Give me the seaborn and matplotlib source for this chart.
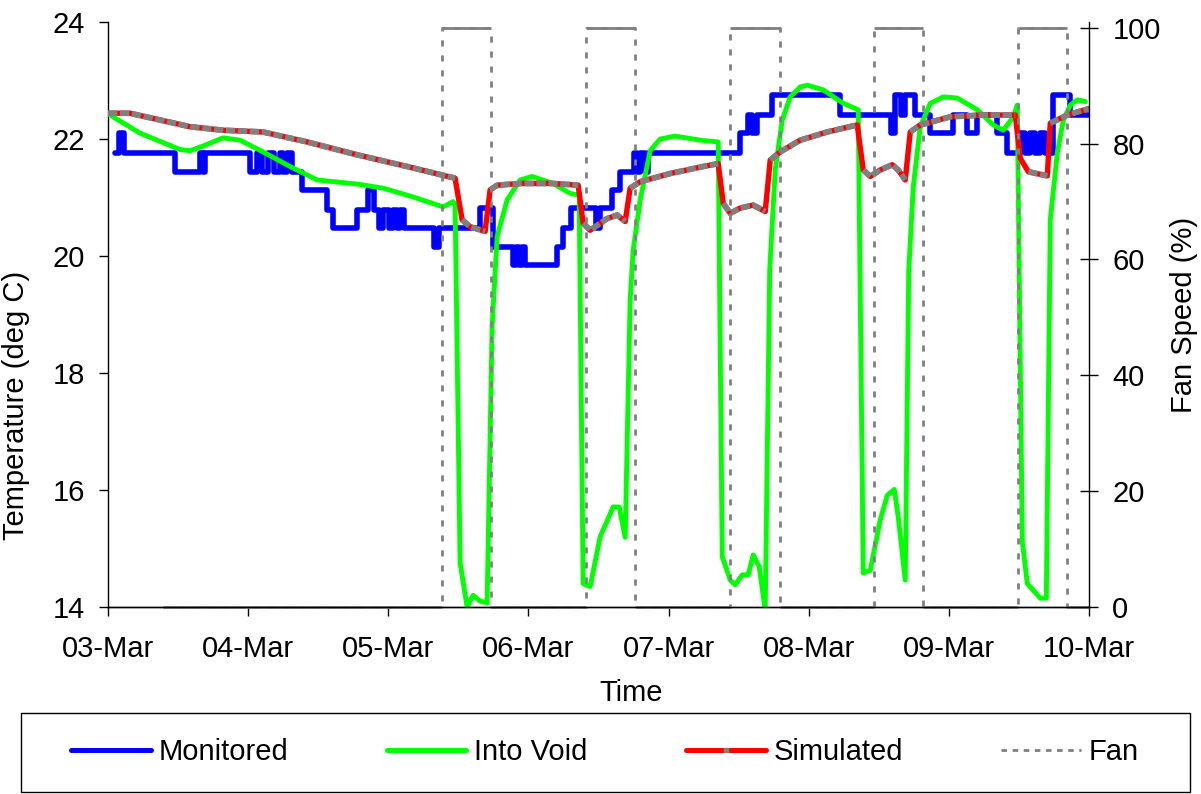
import numpy as np
import pandas as pd
import matplotlib
matplotlib.use("Agg")
import matplotlib.pyplot as plt
from matplotlib.lines import Line2D
from matplotlib.patches import Rectangle
import seaborn as sns

# ---------------- data (hours since 03-Mar 00:00) ----------------
day_labels = ["03-Mar", "04-Mar", "05-Mar", "06-Mar", "07-Mar", "08-Mar", "09-Mar", "10-Mar"]

mon_hours = [1.2, 1.88, 2.74, 11.48, 15.76, 16.27, 16.62, 24.33, 25.52, 26.38,
             27.41, 28.44, 29.47, 29.98, 30.66, 31.52, 33.23, 37.52, 38.54, 42.66,
             44.54, 45.57, 46.43, 47.11, 48.14, 48.82, 49.51, 50.02, 50.71, 55.85,
             56.70, 63.73, 65.95, 69.38, 69.89, 70.41, 70.92, 71.44, 76.92, 77.95,
             79.32, 83.60, 84.28, 86.34, 87.71, 90.11, 90.62, 91.14, 91.99, 92.51,
             108.27, 109.64, 110.32, 111.18, 113.75, 125.40, 134.14, 134.82, 135.85, 136.53,
             138.25, 140.82, 144.76, 147.16, 148.87, 152.30, 154.01, 156.23, 157.09, 157.95,
             158.80, 159.66, 160.52, 161.89, 164.80, 168.0]
mon_temp = [21.76, 22.10, 21.76, 21.44, 21.76, 21.44, 21.76, 21.44, 21.76, 21.44,
            21.76, 21.44, 21.76, 21.44, 21.76, 21.44, 21.13, 20.79, 20.48, 20.79,
            21.13, 20.79, 20.48, 20.79, 20.48, 20.79, 20.48, 20.79, 20.48, 20.16,
            20.48, 20.82, 20.16, 19.85, 20.16, 19.85, 20.16, 19.85, 20.16, 20.48,
            20.82, 20.48, 20.82, 21.13, 21.44, 21.76, 21.44, 21.76, 21.44, 21.76,
            22.10, 22.41, 22.10, 22.41, 22.75, 22.41, 22.10, 22.75, 22.41, 22.75,
            22.41, 22.10, 22.41, 22.10, 22.41, 22.10, 21.76, 22.10, 21.76, 22.10,
            21.76, 22.10, 21.76, 22.75, 22.41, 22.41]

void_hours = [0.34, 5.48, 12.33, 14.05, 16.27, 19.70, 22.61, 26.55, 31.18, 35.80,
              42.66, 47.11, 52.25, 57.39, 59.10, 59.44, 60.30, 61.50, 62.53, 63.73,
              64.93, 65.78, 66.64, 68.35, 70.58, 72.64, 76.23, 79.14, 80.69, 81.37,
              82.57, 84.28, 86.51, 87.54, 88.57, 88.99, 89.42, 89.94, 91.14, 92.85,
              94.56, 97.13, 101.42, 104.50, 105.19, 106.56, 107.41, 108.61, 109.64, 110.49,
              111.52, 112.55, 113.32, 114.26, 115.46, 116.83, 118.55, 119.75, 122.49, 125.91,
              128.48, 129.34, 130.54, 132.25, 133.45, 134.65, 135.33, 136.53, 137.13, 137.90,
              139.10, 140.82, 143.04, 145.44, 148.87, 151.61, 153.32, 155.04, 155.72, 156.58,
              157.43, 159.66, 160.69, 161.37, 162.57, 163.60, 164.80, 166.00, 167.37]
void_temp = [22.41, 22.10, 21.82, 21.80, 21.88, 22.02, 21.98, 21.78, 21.53, 21.30,
             21.23, 21.16, 21.01, 20.84, 20.93, 20.88, 14.75, 14.00, 14.20, 14.10,
             14.07, 18.80, 20.33, 20.96, 21.30, 21.36, 21.24, 21.07, 21.04, 14.40,
             14.35, 15.20, 15.71, 15.71, 15.19, 17.20, 19.25, 20.10, 20.96, 21.80,
             22.00, 22.05, 21.98, 21.95, 14.86, 14.46, 14.38, 14.55, 14.55, 14.89,
             14.69, 13.95, 19.76, 21.47, 22.32, 22.72, 22.89, 22.92, 22.84, 22.61,
             22.50, 14.58, 14.63, 15.49, 15.91, 16.01, 15.54, 14.46, 19.76, 21.18,
             22.21, 22.61, 22.72, 22.70, 22.50, 22.24, 22.15, 22.38, 22.58, 15.12,
             14.40, 14.15, 14.15, 20.62, 21.76, 22.32, 22.58, 22.67, 22.64]

sim_hours = [0.0, 3.77, 14.05, 19.70, 26.55, 34.09, 42.66, 51.22, 59.44, 60.64,
             62.01, 64.58, 65.44, 66.64, 70.58, 76.23, 80.52, 81.37, 82.57, 85.48,
             87.20, 88.57, 89.42, 91.14, 96.28, 101.93, 104.50, 105.36, 106.56, 108.27,
             110.49, 112.55, 113.41, 115.12, 118.55, 123.17, 128.31, 129.34, 130.54, 132.25,
             134.31, 135.33, 136.53, 137.39, 139.10, 144.24, 149.90, 155.38, 156.23, 157.61,
             160.86, 161.37, 164.29, 168.0]
sim_temp = [22.44, 22.44, 22.21, 22.15, 22.12, 21.95, 21.73, 21.53, 21.33, 20.62,
            20.50, 20.42, 21.13, 21.21, 21.24, 21.24, 21.21, 20.56, 20.44, 20.64,
            20.70, 20.59, 21.16, 21.27, 21.41, 21.53, 21.58, 20.90, 20.73, 20.82,
            20.87, 20.76, 21.64, 21.78, 21.98, 22.12, 22.24, 21.47, 21.36, 21.47,
            21.56, 21.47, 21.30, 22.12, 22.24, 22.38, 22.41, 22.41, 21.67, 21.44,
            21.37, 22.27, 22.41, 22.52]
# start hours of simulated segments that are drawn red only (no grey overlay)
sim_red_only_from = [59.44, 64.58, 80.52, 88.57, 104.50, 112.55, 128.31, 136.53,
                     155.38, 156.23, 160.86]

fan_hours = [9.4, 57.2, 65.6, 81.8, 90.3, 106.5, 115.0, 131.1, 139.6, 155.8, 164.3, 168.0]
fan_speed = [0, 100, 0, 100, 0, 100, 0, 100, 0, 100, 0, 0]

# ---------------- style ----------------
sns.set_theme(style="white")
plt.rcParams["font.family"] = ["Liberation Sans", "DejaVu Sans"]
plt.rcParams["font.size"] = 21

BLUE, GREEN, RED, GREY = "#0000FF", "#00FF00", "#FF0000", "#808080"

W, H = 1201, 794
fig = plt.figure(figsize=(W / 100, H / 100), dpi=100)
ax = fig.add_axes([108 / W, 187 / H, 981 / W, 585 / H])

mon_df = pd.DataFrame({"h": mon_hours, "t": mon_temp})
void_df = pd.DataFrame({"h": void_hours, "t": void_temp})
sim_df = pd.DataFrame({"h": sim_hours, "t": sim_temp})
seg, s = [], 0
for h in sim_hours:
    seg.append(s)
    if np.any(np.isclose(h, sim_red_only_from)):
        s += 1
sim_df["seg"] = seg
fan_df = pd.DataFrame({"h": fan_hours, "f": fan_speed})

sns.lineplot(data=mon_df, x="h", y="t", ax=ax, color=BLUE, lw=4.0,
             drawstyle="steps-post", estimator=None, sort=False, zorder=2)
sns.lineplot(data=void_df, x="h", y="t", ax=ax, color=GREEN, lw=3.5,
             estimator=None, sort=False, zorder=3)
sns.lineplot(data=sim_df, x="h", y="t", ax=ax, color=RED, lw=3.9,
             estimator=None, sort=False, zorder=4)
sns.lineplot(data=sim_df, x="h", y="t", units="seg", ax=ax, color=GREY, lw=4.2,
             estimator=None, sort=False, zorder=5, linestyle=(0, (1.6, 0.45)),
             dash_capstyle="butt")

ax.set_xlim(0, 168)
ax.set_ylim(14, 24)
ax.set_xticks([i * 24 for i in range(len(day_labels))])
ax.set_xticklabels(day_labels)
ax.set_yticks(range(14, 25, 2))

ax2 = ax.twinx()
sns.lineplot(data=fan_df, x="h", y="f", ax=ax2, color=GREY, lw=2.0,
             drawstyle="steps-post", estimator=None, sort=False,
             linestyle=(0, (2.2, 3.2)), dash_capstyle="butt", clip_on=False)
for i in range(len(fan_hours) - 1):
    ax2.hlines(fan_speed[i], fan_hours[i], fan_hours[i + 1], color=GREY, lw=2.0,
               clip_on=False)
ax2.set_ylim(0, 101)
ax2.set_yticks(range(0, 101, 20))
ax2.set_xlim(0, 168)

for a in (ax, ax2):
    a.spines["top"].set_visible(False)
    for sp in ("left", "right", "bottom"):
        a.spines[sp].set_color("black")
        a.spines[sp].set_linewidth(1.0)
    a.set_facecolor("none")
ax2.spines["left"].set_visible(False)
ax.spines["right"].set_visible(False)

ax.tick_params(axis="x", bottom=True, direction="out", length=6.5, width=1,
               color="black", pad=14, labelsize=21, labelcolor="black")
ax.tick_params(axis="y", left=True, direction="out", length=6.5, width=1,
               color="black", pad=10, labelsize=21, labelcolor="black")
ax2.tick_params(axis="y", right=True, direction="inout", length=13.5, width=1,
                color="black", pad=10, labelsize=21, labelcolor="black")

ax.set_xlabel("Time", fontsize=21, color="black", labelpad=8)
ax.xaxis.set_label_coords(0.533, -0.123)
ax.set_ylabel("Temperature (deg C)", fontsize=21, color="black", labelpad=8)
ax.yaxis.set_label_coords(-0.080, 0.345)
ax2.set_ylabel("Fan Speed (%)", fontsize=21, color="black", labelpad=7)

# legend
handles = [
    Line2D([], [], color=BLUE, lw=3.6),
    Line2D([], [], color=GREEN, lw=3.6),
    Line2D([], [], color=RED, lw=3.6, marker="s", markersize=3.5,
           markerfacecolor=GREY, markeredgecolor=GREY),
    Line2D([], [], color=GREY, lw=2.0, linestyle=(0, (2.0, 2.0))),
]
labels = ["Monitored", "Into Void", "Simulated", "Fan"]
fig.legend(handles, labels, loc="center", bbox_to_anchor=(605 / W, 1 - 752 / H),
           ncol=4, frameon=False, fontsize=21, handlelength=2.74,
           handletextpad=0.27, columnspacing=3.36, numpoints=1, labelcolor="black")
fig.patches.append(Rectangle((21 / W, 2 / H), 1169 / W, 79 / H, transform=fig.transFigure,
                             fill=False, edgecolor="black", lw=1.0))

fig.savefig("out.png", dpi=100)
